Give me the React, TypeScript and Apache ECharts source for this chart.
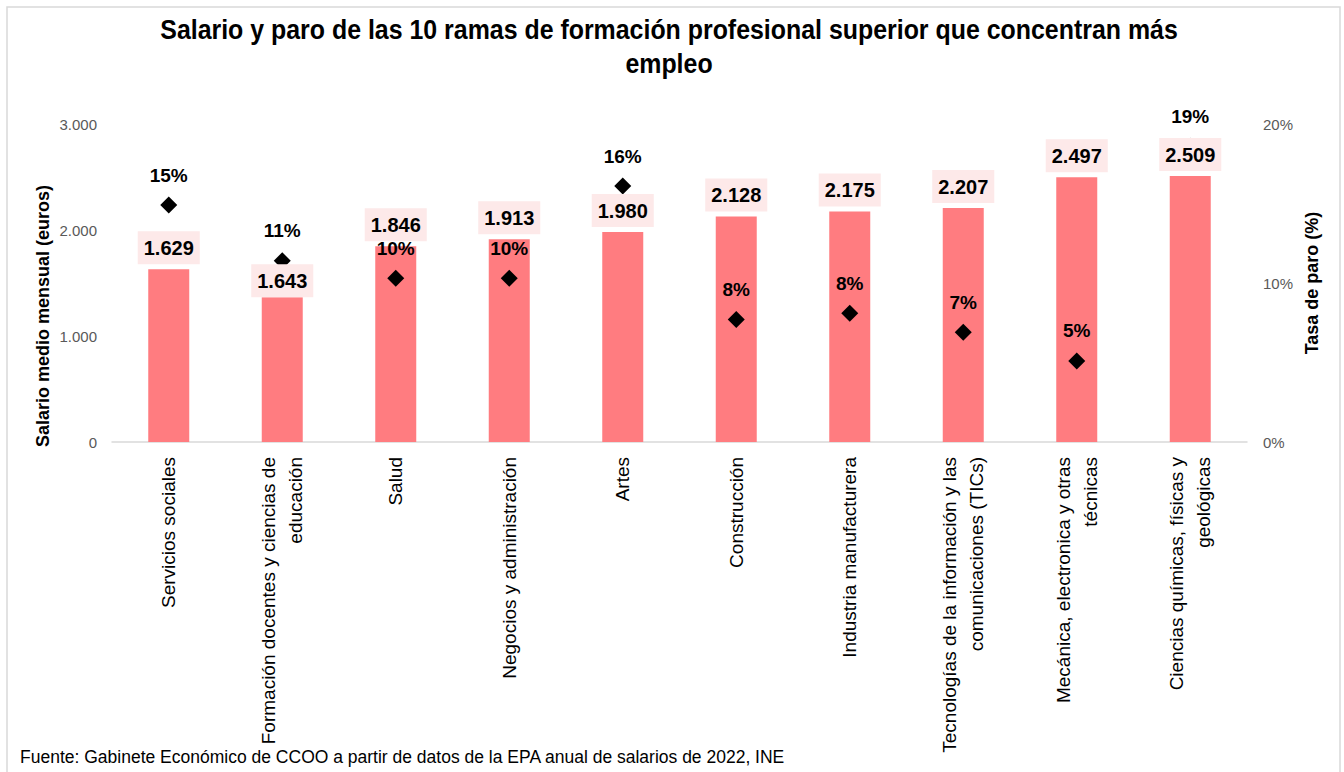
import React, { useEffect, useRef } from "react";
import * as echarts from "echarts";

const categories = [
  "Servicios sociales",
  "Formación docentes y ciencias de\neducación",
  "Salud",
  "Negocios y administración",
  "Artes",
  "Construcción",
  "Industria manufacturera",
  "Tecnologías de la información y las\ncomunicaciones (TICs)",
  "Mecánica, electronica y otras\ntécnicas",
  "Ciencias químicas, físicas y\ngeológicas",
];
// bar heights as drawn in the reference
const salaryBars = [1629, 1365, 1846, 1913, 1980, 2128, 2175, 2207, 2497, 2509];
// value labels as printed in the reference
const salaryLabels = ["1.629", "1.643", "1.846", "1.913", "1.980", "2.128", "2.175", "2.207", "2.497", "2.509"];
const unemployment = [14.9, 11.4, 10.3, 10.3, 16.1, 7.7, 8.1, 6.9, 5.1, 18.6];
const leftTicks = [0, 1000, 2000, 3000];
const rightTicks = [0, 10, 20];

const titleLines = [
  "Salario y paro de las 10 ramas de formación profesional superior que concentran más",
  "empleo",
];
const source = "Fuente: Gabinete Económico de CCOO a partir de datos de la EPA anual de salarios de 2022, INE";

const FONT = "'Liberation Sans', Arial, sans-serif";

export default function App() {
  const ref = useRef<HTMLDivElement>(null);
  useEffect(() => {
    if (!ref.current) return;
    const chart = echarts.init(ref.current, null, { renderer: "svg" });
    const fmtThousands = (v: number) =>
      v === 0 ? "0" : String(v).replace(/\B(?=(\d{3})+(?!\d))/g, ".");
    // in the reference the second label sits flush on its bar
    const labelBars = salaryBars.map((v, i) =>
      i === 1 ? { value: v, label: { distance: 0 } } : v
    );
    chart.setOption({
      animation: false,
      backgroundColor: "#ffffff",
      grid: { left: 112, right: 97, top: 124, bottom: 330, containLabel: false },
      xAxis: {
        type: "category",
        data: categories,
        axisLine: { lineStyle: { color: "#D9D9D9", width: 1.5 } },
        axisTick: { show: false },
        axisLabel: {
          rotate: 90,
          interval: 0,
          margin: 15,
          fontSize: 19,
          lineHeight: 27,
          color: "#000",
          fontFamily: FONT,
        },
      },
      yAxis: [
        {
          type: "value",
          min: leftTicks[0],
          max: leftTicks[leftTicks.length - 1],
          interval: 1000,
          splitLine: { show: false },
          axisLine: { show: false },
          axisTick: { show: false },
          axisLabel: {
            margin: 15,
            fontSize: 15,
            color: "#595959",
            fontFamily: FONT,
            formatter: (v: number) => fmtThousands(v),
          },
        },
        {
          type: "value",
          min: rightTicks[0],
          max: rightTicks[rightTicks.length - 1],
          interval: 10,
          splitLine: { show: false },
          axisLine: { show: false },
          axisTick: { show: false },
          axisLabel: {
            margin: 16,
            fontSize: 15,
            color: "#595959",
            fontFamily: FONT,
            formatter: "{value}%",
          },
        },
      ],
      series: [
        {
          type: "bar",
          yAxisIndex: 0,
          data: salaryBars,
          barWidth: 41,
          itemStyle: { color: "#FF7C80" },
          z: 1,
        },
        {
          type: "scatter",
          yAxisIndex: 1,
          data: unemployment,
          symbol: "diamond",
          symbolSize: [17, 17],
          itemStyle: { color: "#000", opacity: 1 },
          z: 2,
          label: {
            show: true,
            position: "top",
            distance: 12,
            fontSize: 19,
            fontWeight: "bold",
            color: "#000",
            fontFamily: FONT,
            formatter: (p: any) => Math.round(p.value) + "%",
          },
        },
        {
          type: "bar",
          yAxisIndex: 0,
          data: labelBars,
          barWidth: 41,
          barGap: "-100%",
          itemStyle: { color: "rgba(0,0,0,0)" },
          silent: true,
          z: 3,
          label: {
            show: true,
            position: "top",
            distance: 5,
            fontSize: 20,
            fontWeight: "bold",
            lineHeight: 23,
            color: "#000",
            backgroundColor: "#FDE9E9",
            padding: [5, 6, 5, 6],
            fontFamily: FONT,
            formatter: (p: any) => salaryLabels[p.dataIndex],
          },
        },
      ],
      graphic: [
        {
          type: "rect",
          shape: { x: 7, y: 7, width: 1333, height: 820 },
          style: { fill: "none", stroke: "#D9D9D9", lineWidth: 1.5 },
          silent: true,
          z: -10,
        },
        {
          type: "text",
          x: 669,
          y: 30,
          scaleX: 0.923,
          style: {
            text: titleLines[0],
            fontSize: 27,
            fontWeight: "bold",
            fill: "#000",
            align: "center",
            verticalAlign: "middle",
            fontFamily: FONT,
          },
        },
        {
          type: "text",
          x: 669,
          y: 64,
          scaleX: 0.923,
          style: {
            text: titleLines[1],
            fontSize: 27,
            fontWeight: "bold",
            fill: "#000",
            align: "center",
            verticalAlign: "middle",
            fontFamily: FONT,
          },
        },
        {
          type: "text",
          x: 43,
          y: 316,
          rotation: Math.PI / 2,
          style: {
            text: "Salario medio mensual (euros)",
            fontSize: 18,
            fontWeight: "bold",
            fill: "#000",
            align: "center",
            verticalAlign: "middle",
            fontFamily: FONT,
          },
        },
        {
          type: "text",
          x: 1312,
          y: 283,
          rotation: Math.PI / 2,
          style: {
            text: "Tasa de paro (%)",
            fontSize: 18,
            fontWeight: "bold",
            fill: "#000",
            align: "center",
            verticalAlign: "middle",
            fontFamily: FONT,
          },
        },
        {
          type: "text",
          x: 20,
          y: 757,
          style: {
            text: source,
            fontSize: 17.5,
            fill: "#000",
            align: "left",
            verticalAlign: "middle",
            fontFamily: FONT,
          },
        },
      ],
    });
    return () => chart.dispose();
  }, []);
  return (
    <div
      ref={ref}
      style={{ position: "fixed", left: 0, top: 0, width: 1344, height: 772 }}
    />
  );
}
